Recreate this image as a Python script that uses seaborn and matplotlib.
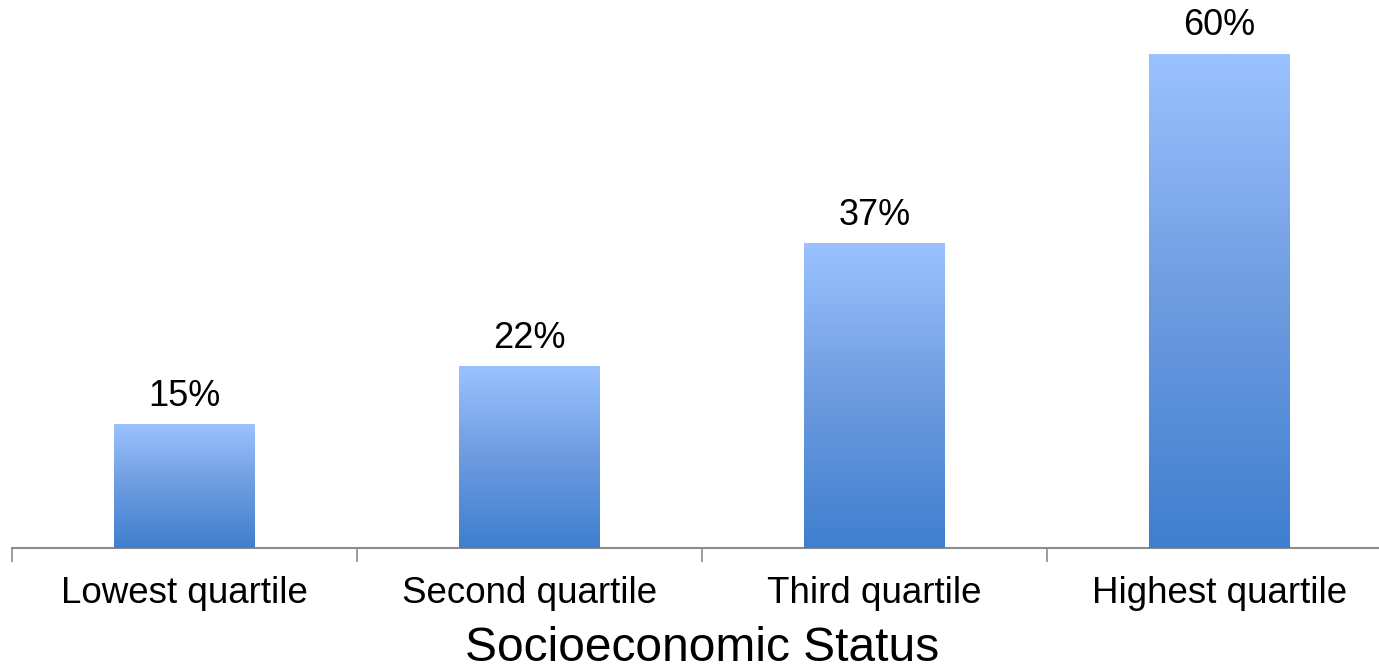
import matplotlib
matplotlib.use("Agg")
import matplotlib.pyplot as plt
import seaborn as sns
import pandas as pd
import numpy as np
from matplotlib.colors import LinearSegmentedColormap

categories = ["Lowest quartile", "Second quartile", "Third quartile", "Highest quartile"]
values = [15, 22, 37, 60]
xlabel = "Socioeconomic Status"

sns.set_style("white")
plt.rcParams["font.family"] = ["Liberation Sans", "DejaVu Sans"]

data = pd.DataFrame({"group": categories, "pct": values})

fig = plt.figure(figsize=(13.79, 6.70), dpi=100)
# axes spans past the right edge, as in the reference
ax = fig.add_axes([12 / 1379, 1 - 548 / 670, 1380 / 1379, 548 / 670])

sns.barplot(data=data, x="group", y="pct", ax=ax, width=0.406, color="#5b8fdc", zorder=2)

ax.set_ylim(0, 548 / (494 / 60))
ax.set_xlim(-0.5, len(categories) - 0.5)

# vertical gradient fill in each bar
grad = LinearSegmentedColormap.from_list("g", ["#3f7fcf", "#6d9be0", "#9bc2ff"])
img = np.linspace(0, 1, 256).reshape(-1, 1)
for patch in ax.patches:
    x0, y0 = patch.get_x(), patch.get_y()
    w, h = patch.get_width(), patch.get_height()
    patch.set_facecolor("none")
    patch.set_edgecolor("none")
    ax.imshow(img, cmap=grad, origin="lower", aspect="auto",
              extent=[x0, x0 + w, y0, y0 + h], zorder=3)
    ax.text(x0 + w / 2, h + 1.3, f"{int(round(h))}%", ha="center", va="bottom",
            fontsize=26, color="black")

for side in ["top", "right", "left"]:
    ax.spines[side].set_visible(False)
ax.spines["bottom"].set_color("#8c8c8c")
ax.spines["bottom"].set_linewidth(1.5)
ax.set_yticks([])

# ticks between categories
ax.set_xticks(np.arange(-0.5, len(categories), 1.0), minor=True)
ax.tick_params(axis="x", which="minor", bottom=True, length=10, width=1.2,
               color="#8c8c8c", direction="out")
ax.tick_params(axis="x", which="major", bottom=False, length=0, pad=20,
               labelsize=26.5, labelcolor="black")
ax.set_xlabel(xlabel, fontsize=34.5, labelpad=11, color="black")
ax.set_ylabel("")

fig.savefig("out.png", dpi=100)
plt.close()
